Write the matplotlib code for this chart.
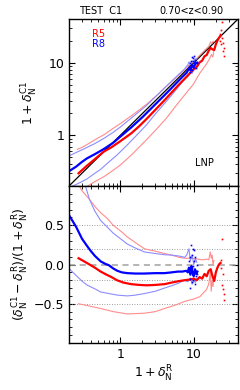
import matplotlib.pyplot as plt
from matplotlib.ticker import FixedLocator, MultipleLocator, NullFormatter

plt.rcParams["font.family"] = ["DejaVu Sans"]
plt.rcParams["mathtext.fontset"] = "dejavusans"

# ---- top panel: 1+delta_C1 vs 1+delta_R ----
red_med_x = [0.27, 0.35, 0.45, 0.6, 0.75, 1.0, 1.4, 1.8, 2.3, 3.0, 4.0, 5.0, 6.4, 7.5, 9.0, 10,
             11, 12, 13, 14, 15, 16, 17, 18, 19, 20, 21, 22, 23.2]
red_med_y = [0.30, 0.38, 0.47, 0.60, 0.68, 0.83, 1.06, 1.33, 1.70, 2.25, 3.05, 3.9, 5.1, 6.0, 7.3, 8.2,
             8.8, 10.1, 10.7, 12.3, 12.8, 14.7, 16.0, 15.3, 15.0, 18.0, 20.2, 22.0, 23.7]
blue_med_x = [0.2, 0.25, 0.3, 0.35, 0.45, 0.6, 0.8, 1.0, 1.4, 2.0, 3.0, 4.0, 5.0, 6.1, 7.0, 8.0,
              8.6, 9.0, 9.5, 10.0, 10.5, 11.0]
blue_med_y = [0.32, 0.37, 0.43, 0.48, 0.55, 0.65, 0.79, 0.96, 1.28, 1.78, 2.68, 3.58, 4.5, 5.55, 6.4, 7.3,
              8.3, 7.9, 9.3, 8.6, 9.8, 10.0]

red_hi_x = [0.26, 0.3, 0.38, 0.46, 0.6, 0.8, 1.0, 1.4, 1.82, 2.4, 3.1, 4.2, 5.8, 7.5, 9.0, 10.9, 12.5,
            14.5, 16.0, 17.0, 17.6, 18.4, 19.0]
red_hi_y = [0.64, 0.68, 0.78, 0.88, 1.02, 1.25, 1.45, 1.85, 2.25, 2.8, 3.5, 4.7, 6.3, 8.0, 9.6, 11.4, 13.2,
            15.3, 16.8, 19.5, 18.4, 19.8, 19.6]
red_lo_x = [0.36, 0.45, 0.6, 0.8, 1.0, 1.4, 2.25, 3.0, 4.2, 5.8, 7.5, 9.8, 12.1, 14.9, 16.5, 17.4,
            18.2, 19.0]
red_lo_y = [0.2, 0.23, 0.27, 0.33, 0.39, 0.53, 0.86, 1.17, 1.7, 2.6, 3.6, 5.0, 7.2, 9.6, 11.5, 13.0,
            12.0, 15.5]
blue_hi_x = [0.2, 0.25, 0.3, 0.34, 0.45, 0.6, 0.8, 1.0, 1.4, 2.25, 3.0, 4.0, 5.2, 6.5, 7.5, 8.3, 8.6,
             9.0, 9.5, 10.0, 10.5, 11.0]
blue_hi_y = [0.52, 0.58, 0.63, 0.67, 0.77, 0.91, 1.1, 1.3, 1.72, 2.55, 3.4, 4.5, 5.8, 7.2, 8.2, 9.4, 10.3,
             9.5, 10.6, 10.0, 11.3, 11.3]
blue_lo_x = [0.2, 0.25, 0.3, 0.35, 0.45, 0.54, 0.7, 0.91, 1.25, 1.6, 2.25, 3.0, 4.0, 5.2, 6.5, 7.5,
             8.3, 9.0, 9.5, 10.0, 10.5, 11.0]
blue_lo_y = [0.19, 0.21, 0.23, 0.25, 0.3, 0.34, 0.43, 0.54, 0.74, 0.96, 1.38, 1.97, 2.75, 3.75, 4.95, 6.0,
             6.47, 7.47, 7.13, 8.0, 8.09, 9.0]

red_pts_x = [22.5, 23.0, 23.5, 24.0, 24.5, 25.0, 25.5, 26.0, 23.2, 24.8]
red_pts_y = [20.0, 25.0, 18.0, 36.0, 22.0, 14.4, 16.0, 12.5, 28.0, 19.0]
blue_pts_x = [8.6, 8.9, 9.1, 9.3, 9.5, 9.7, 9.9, 10.1, 10.3, 10.5, 10.7, 9.0, 9.6, 10.0, 10.9, 11.2,
              8.8, 9.4, 10.2, 9.8]
blue_pts_y = [9.0, 9.8, 8.2, 10.5, 9.3, 11.5, 8.8, 10.2, 9.5, 11.0, 8.5, 7.5, 12.0, 9.9, 10.4, 9.8,
              8.7, 8.0, 12.3, 10.6]

# ---- bottom panel: relative difference ----
red_med_r_x = [0.27, 0.35, 0.45, 0.54, 0.65, 0.74, 0.9, 1.1, 1.4, 1.8, 2.3, 3.0, 4.0, 5.0, 6.4, 7.5,
               9.0, 10, 11, 12, 13, 14, 15, 16, 17, 18, 19, 20, 21, 22, 23.2]
red_med_r = [0.08, 0.02, -0.04, -0.09, -0.13, -0.155, -0.2, -0.23, -0.25, -0.26, -0.265, -0.26, -0.25,
             -0.23, -0.21, -0.2, -0.19, -0.18, -0.2, -0.16, -0.18, -0.12, -0.15, -0.08, -0.06, -0.15,
             -0.21, -0.1, -0.04, 0.0, 0.02]
blue_med_r_x = [0.2, 0.25, 0.3, 0.35, 0.39, 0.45, 0.54, 0.62, 0.7, 0.8, 0.91, 1.05, 1.25, 1.6, 2.1, 3.0,
                4.0, 5.0, 6.1, 7.0, 7.9, 8.3, 8.6, 9.0, 9.3, 9.6, 10.0, 10.4, 10.8, 11.2]
blue_med_r = [0.63, 0.48, 0.33, 0.24, 0.18, 0.11, 0.04, 0.01, -0.01, -0.05, -0.08, -0.1, -0.11, -0.115,
              -0.115, -0.11, -0.11, -0.1, -0.09, -0.09, -0.08, -0.1, -0.04, -0.13, -0.02, -0.1, -0.15,
              -0.06, -0.12, -0.09]
red_hi_r_x = [0.27, 0.3, 0.38, 0.45, 0.54, 0.66, 0.8, 1.0, 1.25, 1.6, 2.13, 3.0, 4.0, 5.0, 6.4, 7.5, 9.0,
              10.5, 12, 13.5, 15, 16, 16.8, 17.3, 17.8, 18.3, 18.8]
red_hi_r = [1.02, 0.94, 0.83, 0.74, 0.66, 0.59, 0.5, 0.43, 0.35, 0.28, 0.2, 0.17, 0.14, 0.12, 0.09, 0.08,
            0.08, 0.075, 0.065, 0.06, 0.07, 0.06, 0.16, 0.08, 0.12, 0.0, 0.05]
red_lo_r_x = [0.27, 0.54, 0.8, 1.25, 2.13, 3.0, 4.0, 5.5, 7.5, 10.0, 12.1, 14.9, 16.0, 16.8, 17.3, 17.8,
              18.3, 18.8]
red_lo_r = [-0.5, -0.56, -0.6, -0.63, -0.62, -0.6, -0.56, -0.52, -0.47, -0.44, -0.41, -0.32, -0.25,
            -0.1, -0.34, -0.2, -0.28, -0.15]
blue_hi_r_x = [0.335, 0.38, 0.45, 0.54, 0.66, 0.8, 1.0, 1.25, 1.6, 2.13, 3.0, 4.0, 5.0, 6.1, 7.0, 7.5,
               8.0, 8.6, 9.0, 9.5, 10, 10.5, 11]
blue_hi_r = [1.0, 0.83, 0.68, 0.56, 0.48, 0.4, 0.33, 0.26, 0.21, 0.16, 0.14, 0.125, 0.12, 0.11, 0.1, 0.09,
             0.12, 0.2, 0.05, 0.12, 0.0, 0.08, 0.03]
blue_lo_r_x = [0.2, 0.25, 0.3, 0.35, 0.45, 0.54, 0.7, 0.91, 1.25, 1.6, 2.13, 3.0, 4.0, 5.0, 6.1, 7.5, 8.3,
               9.0, 9.5, 10, 10.5, 11]
blue_lo_r = [-0.05, -0.14, -0.21, -0.26, -0.31, -0.35, -0.37, -0.39, -0.4, -0.39, -0.37, -0.34, -0.3,
             -0.27, -0.24, -0.2, -0.22, -0.17, -0.25, -0.2, -0.23, -0.18]

red_pts_r_x = [24.2, 23.5, 24.5, 25.0, 25.5, 26.0, 23.8, 24.8]
red_pts_r = [0.33, 0.06, -0.26, -0.31, -0.38, -0.45, -0.05, -0.12]
blue_pts_r_x = [8.6, 8.9, 9.1, 9.3, 9.5, 9.7, 9.9, 10.1, 10.3, 10.5, 10.7, 9.0, 9.6, 10.0, 10.9, 11.2,
                8.8, 9.4, 10.2, 9.8]
blue_pts_r = [0.05, 0.1, -0.1, 0.25, -0.05, 0.2, -0.2, 0.05, -0.25, 0.1, -0.15, -0.3, 0.12, -0.08, 0.0,
              -0.12, -0.18, -0.22, 0.18, -0.02]

ref_lines = [0.5, 0.2, -0.2, -0.5]

RED_THIN = "#ff8c8c"
BLUE_THIN = "#8c8cff"

fig = plt.figure(figsize=(2.4, 3.9), dpi=100)
ax1 = fig.add_axes([0.2875, 0.523, 0.704, 0.428])
ax2 = fig.add_axes([0.2875, 0.1205, 0.704, 0.4025])

# top panel
ax1.plot([0.2, 40], [0.2, 40], color="black", lw=0.9)
ax1.plot(red_hi_x, red_hi_y, color=RED_THIN, lw=0.8)
ax1.plot(red_lo_x, red_lo_y, color=RED_THIN, lw=0.8)
ax1.plot(blue_hi_x, blue_hi_y, color=BLUE_THIN, lw=0.8)
ax1.plot(blue_lo_x, blue_lo_y, color=BLUE_THIN, lw=0.8)
ax1.plot(red_med_x, red_med_y, color="red", lw=1.6)
ax1.plot(blue_med_x, blue_med_y, color="blue", lw=1.6)
ax1.plot(red_pts_x, red_pts_y, "s", color="red", ms=1.2, mew=0)
ax1.plot(blue_pts_x, blue_pts_y, "s", color="blue", ms=1.2, mew=0)
ax1.set_xscale("log")
ax1.set_yscale("log")
ax1.set_xlim(0.2, 40)
ax1.set_ylim(0.2, 40)
ax1.set_yticks([1, 10])
ax1.set_yticklabels(["1", "10"])
ax1.xaxis.set_major_locator(FixedLocator([1, 10]))
ax1.xaxis.set_major_formatter(NullFormatter())
ax1.xaxis.set_minor_formatter(NullFormatter())
ax1.yaxis.set_minor_formatter(NullFormatter())
ax1.set_ylabel(r"$1+\delta^{\rm C1}_{\rm N}$", fontsize=9, labelpad=6)
ax1.text(0.136, 0.91, "R5", color="red", transform=ax1.transAxes, fontsize=7, va="center")
ax1.text(0.136, 0.85, "R8", color="blue", transform=ax1.transAxes, fontsize=7, va="center")
ax1.text(0.80, 0.14, "LNP", color="black", transform=ax1.transAxes, fontsize=7, ha="center",
         va="center")

# bottom panel
for yv in ref_lines:
    ax2.axhline(yv, color="gray", ls=(0, (1, 2)), lw=0.6)
ax2.axhline(0.0, color="#a0a0a0", ls=(0, (4, 3)), lw=1.1)
ax2.plot(red_hi_r_x, red_hi_r, color=RED_THIN, lw=0.8)
ax2.plot(red_lo_r_x, red_lo_r, color=RED_THIN, lw=0.8)
ax2.plot(blue_hi_r_x, blue_hi_r, color=BLUE_THIN, lw=0.8)
ax2.plot(blue_lo_r_x, blue_lo_r, color=BLUE_THIN, lw=0.8)
ax2.plot(red_med_r_x, red_med_r, color="red", lw=1.6)
ax2.plot(blue_med_r_x, blue_med_r, color="blue", lw=1.6)
ax2.plot(red_pts_r_x, red_pts_r, "s", color="red", ms=1.2, mew=0)
ax2.plot(blue_pts_r_x, blue_pts_r, "s", color="blue", ms=1.2, mew=0)
ax2.set_xscale("log")
ax2.set_xlim(0.2, 40)
ax2.set_ylim(-1, 1)
ax2.xaxis.set_major_locator(FixedLocator([1, 10]))
ax2.set_xticklabels(["1", "10"])
ax2.xaxis.set_minor_formatter(NullFormatter())
ax2.yaxis.set_major_locator(FixedLocator([-0.5, 0.0, 0.5]))
ax2.set_yticklabels(["\u22120.5", "0.0", "0.5"])
ax2.yaxis.set_minor_locator(MultipleLocator(0.1))
ax2.set_xlabel(r"$1+\delta^{\rm R}_{\rm N}$", fontsize=9, labelpad=2)
ax2.set_ylabel(r"$(\delta^{\rm C1}_{\rm N}-\delta^{\rm R}_{\rm N})/(1+\delta^{\rm R}_{\rm N})$",
               fontsize=9, labelpad=2)

for ax in (ax1, ax2):
    ax.tick_params(which="both", direction="in", top=True, right=True, labelsize=9)
    ax.tick_params(which="major", length=4, width=0.8)
    ax.tick_params(which="minor", length=2, width=0.6)
    for s in ax.spines.values():
        s.set_linewidth(1.0)

fig.text(0.42, 0.972, "TEST  C1", fontsize=7, ha="center", va="center")
fig.text(0.796, 0.972, "0.70<z<0.90", fontsize=7, ha="center", va="center")

fig.savefig("out.png", dpi=100)
